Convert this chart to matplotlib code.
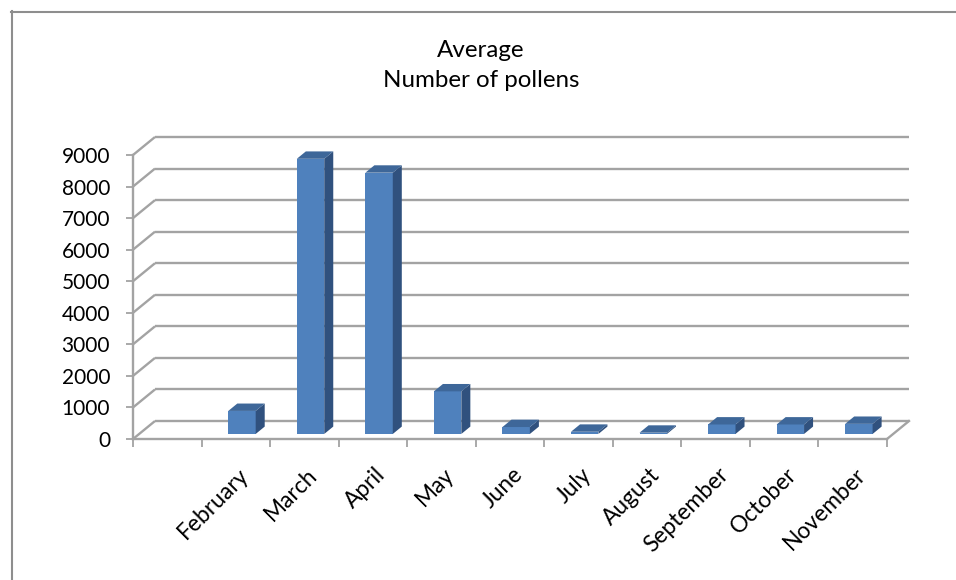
import numpy as np
import matplotlib
matplotlib.use("Agg")
import matplotlib.pyplot as plt
from matplotlib.patches import Polygon
from matplotlib.lines import Line2D
import matplotlib.transforms as mtransforms

plt.rcParams['font.family'] = ['Lato', 'DejaVu Sans']

# ---------------- data ----------------
title_lines = ["Average", "Number of pollens"]
months = ["", "February", "March", "April", "May", "June", "July",
          "August", "September", "October", "November"]
pollens = [None, 730, 8720, 8280, 1350, 220, 70, 40, 300, 300, 320]
y_ticks = [0, 1000, 2000, 3000, 4000, 5000, 6000, 7000, 8000, 9000]

# ---------------- style / geometry ----------------
W, H = 956, 580
fig = plt.figure(figsize=(W / 100, H / 100), dpi=100)
renderer = fig.canvas.get_renderer()


def fit_size(text, target_px, base=10):
    t = fig.text(0, 0, text, fontsize=base)
    w = t.get_window_extent(renderer).width
    t.remove()
    return base * target_px / w


title_fs = fit_size(title_lines[1], 197)
xlab_fs = fit_size("February", 90)

n = len(months)
ymax = y_ticks[-1]
slot_px = 754 / n
unit_px = 284 / ymax
depth_px = (22, 18)
dX = depth_px[0] / slot_px
dY = depth_px[1] / unit_px

grid_c = '#A3A3A3'
front_c = '#4F81BD'
top_c = '#3E6799'
side_c = '#30517E'

ax = fig.add_axes([133 / W, 141 / H,
                   (n * slot_px + depth_px[0]) / W,
                   (ymax * unit_px + depth_px[1]) / H])
ax.set_xlim(0, n + dX)
ax.set_ylim(0, ymax + dY)
for s in ax.spines.values():
    s.set_visible(False)
ax.patch.set_alpha(0)

lw = 1.7
# back wall + left wall gridlines
for v in y_ticks:
    ax.plot([dX, n + dX], [v + dY, v + dY], color=grid_c, lw=lw,
            solid_capstyle='butt', zorder=1, clip_on=False)
    ax.plot([0, dX], [v, v + dY], color=grid_c, lw=lw,
            solid_capstyle='butt', zorder=1, clip_on=False)
# floor edges
ax.plot([0, n], [0, 0], color=grid_c, lw=lw, zorder=1, clip_on=False)
ax.plot([n, n + dX], [0, dY], color=grid_c, lw=lw, zorder=1, clip_on=False)
# y axis line
ax.plot([0, 0], [0, ymax], color=grid_c, lw=lw, zorder=1, clip_on=False)

# ---------------- bars ----------------
f0, f1 = 0.28, 0.69
bw = 0.40
idx = [i for i, v in enumerate(pollens) if v is not None]
vals = [pollens[i] for i in idx]
lefts = [i + 0.5 - bw / 2 + f0 * dX for i in idx]
ax.bar(lefts, vals, width=bw, bottom=f0 * dY, align='edge', color=front_c,
       edgecolor='none', zorder=3)
ddx = (f1 - f0) * dX
ddy = (f1 - f0) * dY
for xl, v in zip(lefts, vals):
    xr = xl + bw
    yb = f0 * dY
    yt = yb + v
    ax.add_patch(Polygon([(xr, yb), (xr + ddx, yb + ddy), (xr + ddx, yt + ddy), (xr, yt)],
                         closed=True, facecolor=side_c, edgecolor='none', zorder=3))
    ax.add_patch(Polygon([(xl, yt), (xr, yt), (xr + ddx, yt + ddy), (xl + ddx, yt + ddy)],
                         closed=True, facecolor=top_c, edgecolor='none', zorder=3))

# ---------------- ticks ----------------
ax.set_yticks(y_ticks)
ax.set_yticklabels([str(t) for t in y_ticks], fontsize=15)
ax.tick_params(axis='y', length=5, width=1.3, color=grid_c, pad=11.5, labelcolor='black')

ax.set_xticks(np.arange(n + 1))
ax.set_xticklabels([''] * (n + 1))
ax.tick_params(axis='x', which='major', length=5.5, width=1.3, color=grid_c)
ax.set_xticks(np.arange(n) + 0.5, minor=True)
ax.set_xticklabels(months, minor=True, fontsize=xlab_fs, rotation=45,
                   ha='right', va='top', rotation_mode='anchor')
ax.tick_params(axis='x', which='minor', length=0, pad=0)
off = mtransforms.ScaledTranslation(2 / 100, -25 / 100, fig.dpi_scale_trans)
for lab in ax.get_xticklabels(minor=True):
    lab.set_transform(lab.get_transform() + off)

# ---------------- title ----------------
fig.text(481 / W, 1 - 57 / H, title_lines[0], ha='center', va='baseline', fontsize=title_fs)
fig.text(481 / W, 1 - 87 / H, title_lines[1], ha='center', va='baseline', fontsize=title_fs)

# ---------------- chart border ----------------
bc = '#8E8E8E'
fig.add_artist(Line2D([11.5 / W, 11.5 / W], [1 - 11 / H, 0], color=bc, lw=1.5,
                      transform=fig.transFigure))
fig.add_artist(Line2D([11 / W, 1], [1 - 11.5 / H, 1 - 11.5 / H], color=bc, lw=1.5,
                      transform=fig.transFigure))

fig.savefig('out.png', dpi=100)
